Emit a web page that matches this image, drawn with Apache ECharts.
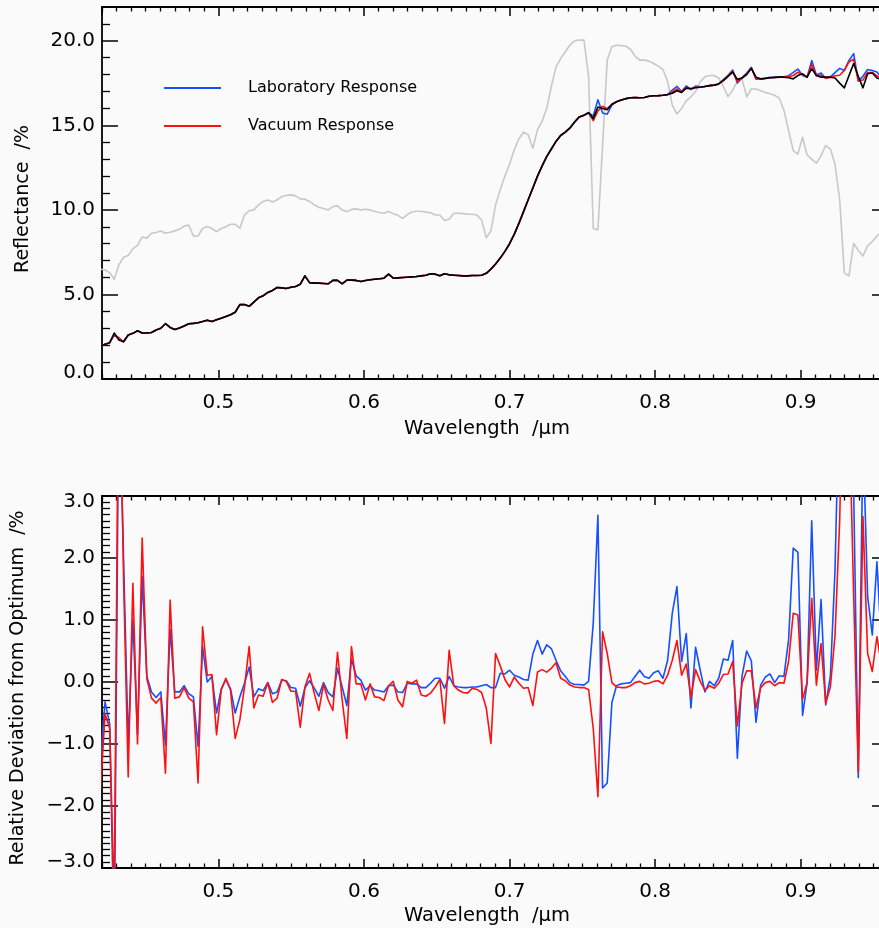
<!DOCTYPE html>
<html><head><meta charset="utf-8">
<script src="https://cdn.jsdelivr.net/npm/echarts@6/dist/echarts.min.js"></script>
<style>html,body{margin:0;padding:0;background:#fafafa;overflow:hidden}#c{width:879px;height:928px}</style>
</head><body><div id="c"></div>
<script>
// Wavelength samples (µm)
const wl = [
0.4189,0.4221,0.4253,0.4284,0.4316,0.4348,0.4380,0.4412,0.4444,0.4476,
0.4508,0.4540,0.4572,0.4604,0.4636,0.4668,0.4700,0.4732,0.4764,0.4796,
0.4828,0.4860,0.4891,0.4923,0.4955,0.4987,0.5019,0.5051,0.5083,0.5115,
0.5147,0.5179,0.5211,0.5243,0.5275,0.5307,0.5339,0.5371,0.5403,0.5435,
0.5466,0.5498,0.5530,0.5562,0.5594,0.5626,0.5658,0.5690,0.5722,0.5754,
0.5786,0.5818,0.5850,0.5882,0.5914,0.5946,0.5978,0.6010,0.6042,0.6073,
0.6105,0.6137,0.6169,0.6201,0.6233,0.6265,0.6297,0.6329,0.6361,0.6393,
0.6425,0.6457,0.6489,0.6521,0.6553,0.6585,0.6617,0.6648,0.6680,0.6712,
0.6744,0.6776,0.6808,0.6840,0.6872,0.6904,0.6936,0.6968,0.7000,0.7032,
0.7064,0.7096,0.7128,0.7160,0.7192,0.7224,0.7255,0.7287,0.7319,0.7351,
0.7383,0.7415,0.7447,0.7479,0.7511,0.7543,0.7575,0.7607,0.7639,0.7671,
0.7703,0.7735,0.7767,0.7799,0.7831,0.7862,0.7894,0.7926,0.7958,0.7990,
0.8022,0.8054,0.8086,0.8118,0.8150,0.8182,0.8214,0.8246,0.8278,0.8310,
0.8342,0.8374,0.8406,0.8437,0.8469,0.8501,0.8533,0.8565,0.8597,0.8629,
0.8661,0.8693,0.8725,0.8757,0.8789,0.8821,0.8853,0.8885,0.8917,0.8949,
0.8981,0.9013,0.9044,0.9076,0.9108,0.9140,0.9172,0.9204,0.9236,0.9268,
0.9300,0.9332,0.9364,0.9396,0.9428,0.9460,0.9492,0.9524,0.9556];

// Reflectance (%) - optimum (black)
const optimum = [
1.95,2.05,2.15,2.72,2.30,2.20,2.60,2.70,2.85,2.72,
2.72,2.75,2.90,3.00,3.27,3.05,2.93,3.02,3.14,3.27,
3.29,3.33,3.40,3.48,3.40,3.50,3.60,3.70,3.80,3.95,
4.40,4.40,4.30,4.55,4.80,4.92,5.12,5.24,5.41,5.39,
5.35,5.43,5.47,5.60,6.10,5.70,5.67,5.67,5.65,5.63,
5.83,5.83,5.63,5.85,5.85,5.83,5.77,5.83,5.87,5.90,
5.93,5.96,6.20,5.96,5.98,6.00,6.02,6.04,6.06,6.10,
6.14,6.22,6.20,6.10,6.22,6.16,6.14,6.12,6.10,6.10,
6.12,6.12,6.14,6.25,6.50,6.80,7.15,7.55,8.00,8.55,
9.20,9.90,10.60,11.30,12.00,12.60,13.15,13.60,14.05,14.40,
14.60,14.85,15.20,15.50,15.60,15.75,15.40,16.08,16.00,15.92,
16.25,16.40,16.50,16.58,16.63,16.65,16.63,16.65,16.72,16.75,
16.76,16.78,16.82,16.90,17.05,16.95,17.20,17.18,17.22,17.25,
17.30,17.35,17.38,17.45,17.65,17.90,18.15,17.72,17.80,18.00,
18.37,17.85,17.75,17.78,17.82,17.84,17.85,17.85,17.82,17.75,
17.95,18.05,17.85,18.35,17.95,17.85,17.85,17.85,17.80,17.50,
17.22,17.94,18.66,17.90,17.22,18.05,18.10,17.80,17.70];

// Reflectance (%) - laboratory response (blue)
const labRefl = [
1.95,2.05,2.15,2.60,2.42,2.20,2.60,2.70,2.85,2.72,
2.72,2.75,2.90,3.00,3.27,3.05,2.93,3.02,3.14,3.27,
3.29,3.33,3.40,3.48,3.40,3.50,3.60,3.70,3.80,3.95,
4.40,4.40,4.30,4.55,4.80,4.92,5.12,5.24,5.41,5.39,
5.35,5.43,5.47,5.60,6.10,5.70,5.67,5.67,5.65,5.63,
5.83,5.83,5.63,5.85,5.85,5.83,5.77,5.83,5.87,5.90,
5.93,5.96,6.20,5.96,5.98,6.00,6.02,6.04,6.06,6.10,
6.14,6.22,6.20,6.10,6.22,6.16,6.14,6.12,6.10,6.10,
6.12,6.12,6.14,6.25,6.50,6.80,7.15,7.55,8.00,8.55,
9.20,9.90,10.60,11.30,12.00,12.60,13.15,13.60,14.05,14.40,
14.60,14.85,15.20,15.50,15.60,15.75,15.55,16.51,15.73,15.66,
16.20,16.40,16.50,16.58,16.63,16.65,16.63,16.65,16.72,16.75,
16.76,16.78,16.82,17.09,17.31,17.00,17.33,17.11,17.32,17.28,
17.30,17.35,17.38,17.45,17.71,17.96,18.27,17.50,17.82,18.09,
18.43,17.73,17.74,17.79,17.84,17.84,17.87,17.87,17.94,18.13,
18.33,17.95,17.85,18.83,17.98,18.09,17.78,17.87,18.12,18.37,
18.25,18.84,19.24,17.62,17.90,18.30,18.24,18.15,17.80];

// Reflectance (%) - vacuum response (red)
const vacRefl = [
1.95,2.05,2.15,2.62,2.44,2.20,2.60,2.70,2.85,2.72,
2.72,2.75,2.90,3.00,3.27,3.05,2.93,3.02,3.14,3.27,
3.29,3.33,3.40,3.48,3.40,3.50,3.60,3.70,3.80,3.95,
4.40,4.40,4.30,4.55,4.80,4.92,5.12,5.24,5.41,5.39,
5.35,5.43,5.47,5.60,6.10,5.70,5.67,5.67,5.65,5.63,
5.83,5.83,5.63,5.85,5.85,5.83,5.77,5.83,5.87,5.90,
5.93,5.96,6.20,5.96,5.98,6.00,6.02,6.04,6.06,6.10,
6.14,6.22,6.20,6.10,6.22,6.16,6.14,6.12,6.10,6.10,
6.12,6.12,6.14,6.25,6.50,6.80,7.15,7.55,8.00,8.55,
9.20,9.90,10.60,11.30,12.00,12.60,13.15,13.60,14.05,14.40,
14.60,14.85,15.20,15.50,15.60,15.75,15.28,15.85,16.13,15.99,
16.25,16.40,16.50,16.58,16.63,16.65,16.63,16.65,16.72,16.75,
16.76,16.78,16.82,16.96,17.16,16.97,17.25,17.14,17.25,17.25,
17.30,17.35,17.38,17.45,17.67,17.92,18.21,17.59,17.80,18.03,
18.40,17.78,17.73,17.78,17.82,17.83,17.85,17.85,17.88,17.95,
18.14,18.00,17.85,18.60,17.94,17.96,17.79,17.84,17.93,17.96,
18.25,18.75,18.92,17.64,17.68,18.13,18.13,17.93,17.75];

// Reflectance (%) - grey reference spectrum
const greyRefl = [
6.50,6.45,6.28,5.90,6.75,7.20,7.30,7.70,7.90,8.40,
8.33,8.62,8.66,8.75,8.62,8.68,8.76,8.85,9.04,9.11,
8.46,8.46,8.90,9.02,8.90,8.72,8.90,9.00,9.15,9.15,
8.92,9.70,9.95,10.00,10.30,10.50,10.59,10.47,10.60,10.79,
10.85,10.89,10.83,10.65,10.63,10.50,10.30,10.16,10.08,10.00,
10.20,10.24,10.00,9.90,10.03,10.06,10.00,10.04,10.00,9.92,
9.85,9.80,9.90,9.78,9.68,9.50,9.72,9.88,9.92,9.92,
9.87,9.84,9.70,9.70,9.37,9.45,9.80,9.80,9.78,9.74,
9.74,9.70,9.40,8.35,8.75,10.30,11.20,12.00,12.70,13.55,
14.20,14.60,14.45,13.65,14.75,15.25,16.00,17.30,18.45,18.95,
19.35,19.75,20.00,20.04,20.04,17.90,8.90,8.82,13.80,18.86,
19.65,19.74,19.72,19.68,19.50,19.10,18.86,18.86,18.80,18.66,
18.50,18.30,17.60,16.20,15.67,16.00,16.45,16.69,17.00,17.58,
17.87,17.95,17.95,17.80,17.30,16.70,17.08,17.62,17.75,16.69,
17.15,17.15,17.05,16.95,16.87,16.78,16.60,15.90,14.70,13.50,
13.30,14.30,13.25,13.00,12.76,13.20,13.82,13.60,12.70,10.60,
6.26,6.10,8.03,7.60,7.28,7.87,8.13,8.45,8.70];

// Relative deviation from optimum (%) - laboratory (blue)
const labDev = [
-1.28,-0.32,-0.68,-4.30,5.00,2.00,-1.00,1.00,-0.85,1.70,
0.09,-0.16,-0.25,-0.16,-1.02,0.85,-0.16,-0.16,-0.06,-0.19,
-0.24,-1.04,0.57,0.00,0.09,-0.50,-0.11,0.04,-0.11,-0.50,
-0.24,-0.02,0.24,-0.24,-0.11,-0.14,-0.01,-0.19,-0.16,0.03,
0.02,-0.09,-0.10,-0.39,-0.10,0.02,-0.10,-0.23,-0.01,-0.17,
-0.24,0.22,-0.08,-0.38,0.37,0.10,0.03,-0.13,-0.06,-0.13,
-0.14,-0.16,-0.06,-0.05,-0.16,-0.17,-0.02,-0.03,-0.03,-0.09,
-0.09,-0.02,0.06,0.06,-0.10,0.09,-0.06,-0.08,-0.09,-0.09,
-0.08,-0.08,-0.06,-0.04,-0.09,-0.09,0.14,0.13,0.19,0.11,
0.08,0.04,0.03,0.45,0.67,0.45,0.60,0.54,0.35,0.18,
0.09,-0.01,-0.04,-0.04,-0.05,0.01,0.95,2.69,-1.71,-1.63,
-0.33,-0.06,-0.03,-0.02,-0.01,0.09,0.19,0.09,0.06,0.15,
0.18,0.06,0.35,1.11,1.54,0.33,0.78,-0.42,0.56,0.19,
-0.16,0.01,-0.06,0.06,0.37,0.35,0.67,-1.23,0.09,0.50,
0.34,-0.65,-0.05,0.08,0.13,-0.01,0.10,0.09,0.68,2.16,
2.09,-0.54,-0.02,2.60,0.19,1.33,-0.37,0.09,1.80,5.00,
6.00,5.00,3.10,-1.54,4.00,1.38,0.76,1.94,0.56];

// Relative deviation from optimum (%) - vacuum (red)
const vacDev = [
-1.75,-0.51,-0.75,-3.60,6.00,1.70,-1.53,1.59,-1.00,2.32,
0.06,-0.26,-0.34,-0.25,-1.47,1.32,-0.26,-0.24,-0.09,-0.26,
-0.32,-1.63,0.89,0.11,0.12,-0.85,-0.13,0.06,-0.13,-0.91,
-0.61,-0.08,0.57,-0.42,-0.21,-0.23,-0.01,-0.33,-0.26,0.04,
0.01,-0.15,-0.15,-0.73,-0.08,0.14,-0.18,-0.46,-0.04,-0.29,
-0.46,0.48,-0.29,-0.91,0.57,-0.03,-0.03,-0.29,-0.03,-0.24,
-0.25,-0.30,-0.06,0.01,-0.29,-0.40,0.01,-0.02,0.03,-0.21,
-0.23,-0.18,-0.08,0.04,-0.67,0.51,-0.06,-0.13,-0.17,-0.18,
-0.10,-0.12,-0.17,-0.42,-0.99,0.46,0.26,0.04,-0.08,0.08,
-0.02,-0.10,-0.09,-0.38,0.16,0.20,0.16,0.22,0.31,0.06,
0.02,-0.05,-0.08,-0.09,-0.09,-0.12,-0.75,-1.85,0.81,0.46,
-0.01,-0.08,-0.09,-0.09,-0.06,-0.01,0.01,-0.03,-0.02,0.01,
0.02,-0.03,0.11,0.35,0.67,0.11,0.29,-0.25,0.20,0.01,
-0.13,-0.06,-0.10,-0.02,0.12,0.13,0.33,-0.71,-0.02,0.18,
0.18,-0.42,-0.09,-0.01,0.01,-0.06,-0.01,-0.02,0.33,1.11,
1.08,-0.28,-0.01,1.35,-0.05,0.62,-0.34,-0.08,0.75,2.60,
6.00,4.50,1.40,-1.45,2.67,0.46,0.17,0.73,0.26];

// Axis ranges and tick labels
const xRange = [0.42, 0.96];
const xTickLabels = ['0.5','0.6','0.7','0.8','0.9'];
const reflRange = [0, 22];
const reflTickLabels = ['0.0','5.0','10.0','15.0','20.0'];
const devRange = [-3, 3];
const devTickLabels = ['-3.0','-2.0','-1.0','0.0','1.0','2.0','3.0'];

const FONT = 'DejaVu Sans';
const BLUE = '#1450ff', RED = '#ff1010', BLACK = '#000000', GREY = '#c8c8c8';

function pairs(arr){ return wl.map((w,i)=>[w, arr[i]]); }
function fmt1(v){ const s = Math.abs(v).toFixed(1); return (v < -1e-9 ? '\u2212' : '') + s; }

const lbl = {fontFamily:FONT, fontSize:20, color:'#000'};

function xAxis(g, pos, labels){
  const a = {
    type:'value', gridIndex:g, position:pos, min:xRange[0], max:xRange[1], splitNumber:5,
    axisLine:{show:true, onZero:false, lineStyle:{color:'#000', width:1.8}},
    axisTick:{show:true, inside:true, length:9, lineStyle:{color:'#000', width:1.5}},
    minorTick:{show:true, splitNumber:10, length:4.5, lineStyle:{color:'#000', width:1.3}},
    splitLine:{show:false}, minorSplitLine:{show:false},
    axisLabel:{show:false}
  };
  if (labels){
    a.axisLabel = Object.assign({show:true, margin:14, showMinLabel:false, showMaxLabel:false,
      formatter: v => { const s = v.toFixed(1); return (xTickLabels.includes(s) && Math.abs(v*10-Math.round(v*10))<1e-6) ? s : ''; }}, lbl);
    a.name = 'Wavelength  /\u03bcm';
    a.nameLocation = 'middle';
    a.nameGap = labels.gap;
    a.nameTextStyle = {fontFamily:FONT, fontSize:19.5, color:'#000', padding:[0,16,0,0]};
  }
  return a;
}

function yAxis(g, pos, cfg){
  const a = {
    type:'value', gridIndex:g, position:pos, min:cfg.range[0], max:cfg.range[1], interval:cfg.interval,
    axisLine:{show:true, onZero:false, lineStyle:{color:'#000', width:1.8}},
    axisTick:{show:true, inside:true, length:16, lineStyle:{color:'#000', width:1.5}},
    minorTick:{show:true, splitNumber:cfg.minor, length:8, lineStyle:{color:'#000', width:1.3}},
    splitLine:{show:false}, minorSplitLine:{show:false},
    axisLabel:{show:false}
  };
  if (cfg.labels){
    const rich = {
      lo: {fontFamily:FONT, fontSize:20, color:'#000', padding:[0,0,12,0]},
      hi: {fontFamily:FONT, fontSize:20, color:'#000', padding:[12,0,0,0]},
      n:  {fontFamily:FONT, fontSize:20, color:'#000'}
    };
    a.axisLabel = Object.assign({show:true, margin:7, rich:rich,
      formatter: v => {
        const s = v.toFixed(1);
        if (!cfg.labels.includes(s)) return '';
        const t = fmt1(v);
        if (Math.abs(v - cfg.range[0]) < 1e-9) return '{lo|' + t + '}';
        if (Math.abs(v - cfg.range[1]) < 1e-9) return '{hi|' + t + '}';
        return '{n|' + t + '}';
      }}, lbl);
    a.name = cfg.name;
    a.nameLocation = 'middle';
    a.nameGap = cfg.gap;
    a.nameTextStyle = {fontFamily:FONT, fontSize:19, color:'#000', padding:[0,12,0,0]};
  }
  return a;
}

function line(name, xi, yi, data, color, width){
  return {type:'line', name:name, xAxisIndex:xi, yAxisIndex:yi, data:data, symbol:'none',
    showSymbol:false, clip:true, animation:false,
    lineStyle:{color:color, width:width, join:'round'}, itemStyle:{color:color}};
}

const option = {
  backgroundColor:'#fafafa',
  animation:false,
  grid:[
    {left:102, width:786, top:7, height:372, containLabel:false, outerBoundsMode:'none'},
    {left:102, width:786, top:496, height:372, containLabel:false, outerBoundsMode:'none'}
  ],
  xAxis:[
    xAxis(0,'bottom',{gap:40}),
    xAxis(0,'top',null),
    xAxis(1,'bottom',{gap:38}),
    xAxis(1,'top',null)
  ],
  yAxis:[
    yAxis(0,'left',{range:reflRange, interval:5, minor:5, labels:reflTickLabels, name:'Reflectance  /%', gap:69}),
    yAxis(0,'right',{range:reflRange, interval:5, minor:5}),
    yAxis(1,'left',{range:devRange, interval:1, minor:10, labels:devTickLabels, name:'Relative Deviation from Optimum  /%', gap:74}),
    yAxis(1,'right',{range:devRange, interval:1, minor:10})
  ],
  legend:{
    data:['Laboratory Response','Vacuum Response'], orient:'vertical', left:159, top:75,
    icon:'rect', itemWidth:57, itemHeight:2, itemGap:22, selectedMode:false,
    textStyle:{fontFamily:FONT, fontSize:16, color:'#000', padding:[0,0,0,22]}
  },
  series:[
    line('Grey reference', 0, 0, pairs(greyRefl), GREY, 1.6),
    line('Laboratory Response', 0, 0, pairs(labRefl), BLUE, 1.6),
    line('Vacuum Response', 0, 0, pairs(vacRefl), RED, 1.6),
    line('Optimum', 0, 0, pairs(optimum), BLACK, 1.6),
    line('Laboratory Response', 2, 2, pairs(labDev), BLUE, 1.6),
    line('Vacuum Response', 2, 2, pairs(vacDev), RED, 1.6)
  ]
};

const chart = echarts.init(document.getElementById('c'), null, {renderer:'canvas'});
chart.setOption(option);
</script>
</body></html>
